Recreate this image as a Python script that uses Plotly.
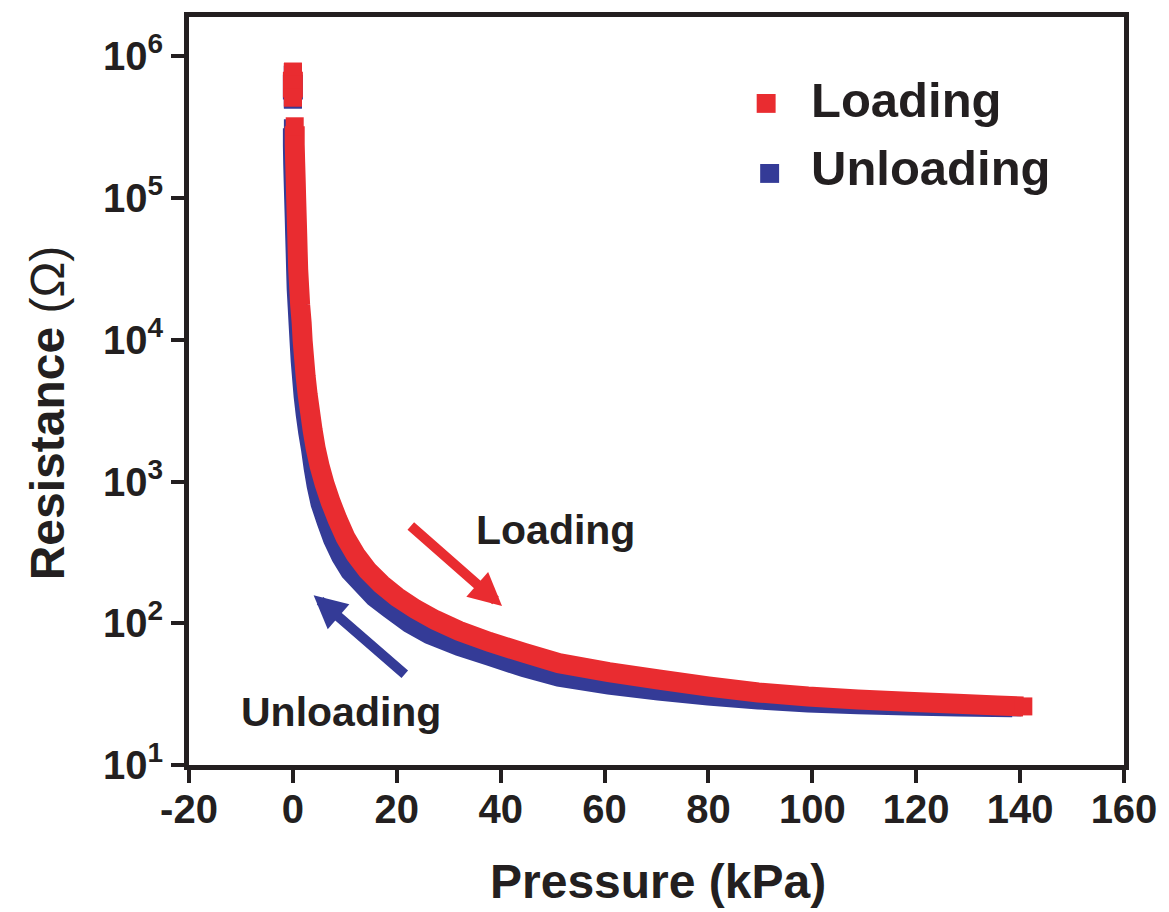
import plotly.graph_objects as go

# ---- data ----
# Loading (red): top cluster, gap, then continuous curve
load_p = [0, 0, 0, None,
          0.35, 0.35, 0.44, 0.54, 0.63, 0.73, 0.83, 0.92, 1.02, 1.21, 1.40, 1.69, 1.88,
          2.17, 2.46, 2.84, 3.32, 3.80, 4.38, 5.14, 6.10, 7.25, 8.60, 10.13, 12.05,
          14.35, 17.04, 20.09, 23.57, 27.40, 32.01, 37.77, 44.48, 51.20, 60.80, 70.39,
          79.98, 89.58, 99.17, 108.77, 118.36, 127.96, 135.63, 140.62]
load_r = [778000, 631000, 512000, None,
          320600, 239900, 179400, 134200, 100300, 75050, 56120, 41980, 31400, 23480,
          17560, 13140, 9825, 7348, 5495, 4111, 3075, 2299, 1720, 1286, 962, 720, 538,
          402.5, 306, 236.4, 188.6, 152.9, 126.0, 105.5, 88.3, 73.9, 61.9, 52.3, 45.2,
          40.1, 35.8, 32.5, 30.4, 29.0, 27.9, 27.0, 26.3, 25.9]

# Unloading (blue)
unload_p = [0, 0, 0, None,
            0, 0, 0.06, 0.15, 0.25, 0.35, 0.44, 0.54, 0.63, 0.73, 0.92, 1.11, 1.30,
            1.50, 1.78, 2.07, 2.46, 2.94, 3.51, 3.99, 4.57, 5.33, 6.49, 7.73, 9.29,
            11.02, 12.82, 15.70, 18.58, 22.42, 26.26, 32.01, 37.77, 44.48, 51.20,
            60.80, 70.39, 79.98, 89.58, 99.17, 108.77, 118.36, 127.96, 138.51]
unload_r = [741300, 582100, 495500, None,
            310500, 232300, 173800, 130000, 97050, 72610, 54330, 40640, 30410, 22750,
            17020, 12710, 9506, 7112, 5321, 3981, 2979, 2228, 1667, 1245, 931, 697,
            521, 390, 296.2, 232.6, 197.9, 152.9, 127.0, 100.5, 83.6, 68.9, 59.0,
            48.9, 42.0, 36.9, 33.5, 30.9, 29.0, 27.6, 26.8, 26.3, 25.9, 25.5]

x_ticks = [-20, 0, 20, 40, 60, 80, 100, 120, 140, 160]
x_ticktext = ["-20", "0", "20", "40", "60", "80", "100", "120", "140", "160"]
y_ticks = [1e1, 1e2, 1e3, 1e4, 1e5, 1e6]
y_ticktext = ["10<sup>1</sup>", "10<sup>2</sup>", "10<sup>3</sup>",
              "10<sup>4</sup>", "10<sup>5</sup>", "10<sup>6</sup>"]

RED = "#E92C30"
BLUE = "#343B97"
INK = "#231F20"
FONT = "Liberation Sans"
MS = 18
LW = 20


def end_sizes(vals):
    """square caps only at the ends of each continuous run"""
    out = []
    for i, v in enumerate(vals):
        if v is None:
            out.append(0)
            continue
        prev_none = i == 0 or vals[i - 1] is None
        next_none = i == len(vals) - 1 or vals[i + 1] is None
        out.append(MS if (prev_none or next_none) else 0)
    return out


fig = go.Figure()
for p, r, c, name in [(unload_p, unload_r, BLUE, "Unloading"),
                      (load_p, load_r, RED, "Loading")]:
    fig.add_trace(go.Scatter(
        x=p, y=r, mode="lines+markers", name=name, showlegend=False,
        line=dict(color=c, width=LW, simplify=False),
        marker=dict(symbol="square", size=end_sizes(r), color=c, opacity=1,
                    line=dict(width=0)),
        connectgaps=False,
    ))
    # the top cluster of overlapping squares
    fig.add_trace(go.Scatter(
        x=p[:3], y=r[:3], mode="markers", showlegend=False,
        marker=dict(symbol="square", size=MS, color=c, opacity=1, line=dict(width=0)),
    ))

axis_common = dict(showline=True, linewidth=5, linecolor=INK, mirror=True,
                   ticks="outside", ticklen=13, tickwidth=4, tickcolor=INK,
                   showgrid=False, zeroline=False,
                   tickfont=dict(family=FONT, size=40, color=INK, weight="bold"))

fig.update_xaxes(range=[-20, 160], tickvals=x_ticks, ticktext=x_ticktext,
                 ticklabelstandoff=-8, **axis_common)
fig.update_yaxes(type="log", range=[1, 6.277], tickvals=y_ticks,
                 ticktext=y_ticktext, **axis_common)

# Legend drawn by hand
W, H = 1169, 912
L, R_, T, B = 189, 42, 12, 147
pw, ph = W - L - R_, H - T - B


def px(x):
    return (x - L) / pw


def py(y):
    return (H - B - y) / ph


shapes = [
    dict(type="rect", xref="paper", yref="paper", x0=px(758.5), x1=px(777.5),
         y0=py(108.5), y1=py(89.5), fillcolor=RED, line=dict(width=0)),
    dict(type="rect", xref="paper", yref="paper", x0=px(762), x1=px(781),
         y0=py(179), y1=py(160), fillcolor=BLUE, line=dict(width=0)),
]

annotations = [
    dict(xref="paper", yref="paper", x=px(811), y=py(96), text="<b>Loading</b>",
         showarrow=False, xanchor="left", yanchor="middle",
         font=dict(family=FONT, size=49, color=INK)),
    dict(xref="paper", yref="paper", x=px(811), y=py(164), text="<b>Unloading</b>",
         showarrow=False, xanchor="left", yanchor="middle",
         font=dict(family=FONT, size=49, color=INK)),
    # in-plot labels
    dict(xref="x", yref="y", x=50.62, y=2.655, text="<b>Loading</b>",
         showarrow=False, font=dict(family=FONT, size=41, color=INK)),
    dict(xref="x", yref="y", x=9.21, y=1.375, text="<b>Unloading</b>",
         showarrow=False, font=dict(family=FONT, size=41, color=INK)),
    # arrows
    dict(xref="x", yref="y", axref="x", ayref="y", x=40.26, y=2.121,
         ax=22.41, ay=2.696, text="", showarrow=True, arrowhead=2,
         arrowwidth=10, arrowsize=0.66, arrowcolor=RED),
    dict(xref="x", yref="y", axref="x", ayref="y", x=3.99, y=2.198,
         ax=21.83, ay=1.631, text="", showarrow=True, arrowhead=2,
         arrowwidth=10, arrowsize=0.66, arrowcolor=BLUE),
    # axis titles
    dict(xref="paper", yref="paper", x=px(660), y=py(882),
         text="<b>Pressure (kPa)</b>", showarrow=False,
         xanchor="center", yanchor="middle",
         font=dict(family=FONT, size=48, color=INK)),
    dict(xref="paper", yref="paper", x=px(46.5), y=py(410),
         text="<b>Resistance</b> (Ω)", showarrow=False, textangle=-90,
         xanchor="center", yanchor="middle",
         font=dict(family=FONT, size=48, color=INK)),
]

fig.update_layout(
    width=W, height=H,
    margin=dict(l=L, r=R_, t=T, b=B),
    paper_bgcolor="white", plot_bgcolor="white",
    shapes=shapes, annotations=annotations,
    showlegend=False,
    font=dict(family=FONT, color=INK),
)

fig.write_html("out.html")
